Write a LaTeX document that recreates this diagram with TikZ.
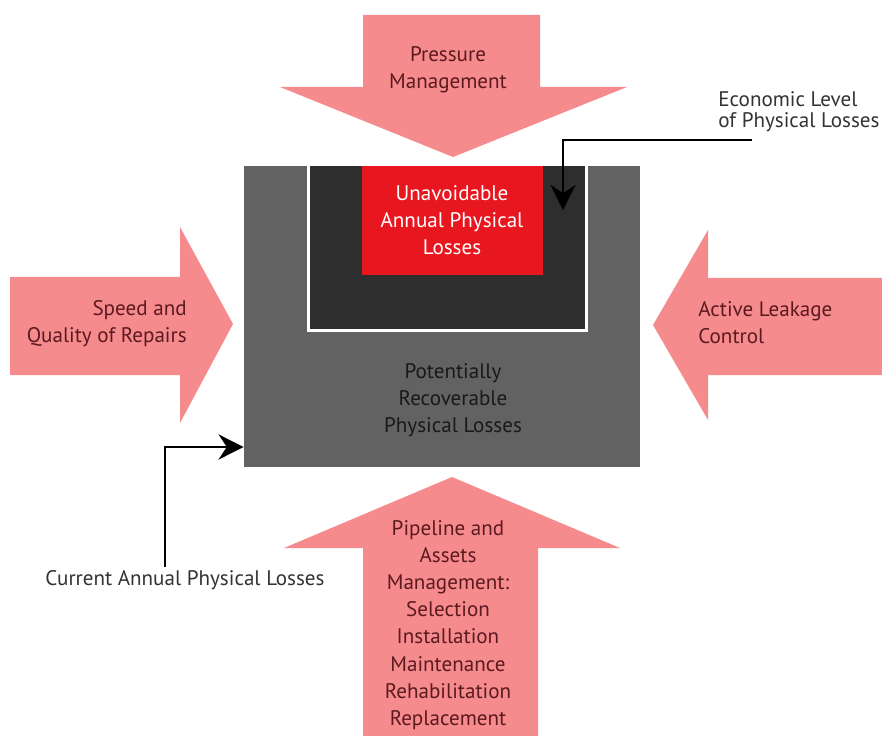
\documentclass[tikz,border=0pt]{standalone}
\usepackage{fontspec}
\setmainfont{PT Sans}
\usetikzlibrary{arrows.meta, positioning, fit, calc}

\definecolor{lossarrow}{RGB}{245,139,141}
\definecolor{losstext}{RGB}{92,26,32}
\definecolor{recovgrey}{RGB}{98,98,98}
\definecolor{econdark}{RGB}{46,46,46}
\definecolor{unavred}{RGB}{232,22,30}

\begin{document}
\begin{tikzpicture}[x=0.02cm, y=-0.02cm,
    bigarrow/.style={fill=lossarrow},
    arrowtext/.style={font=\fontsize{12}{15.5}\selectfont, text=losstext, inner sep=0pt},
    box/.style={rectangle, inner sep=0pt},
    boxtext/.style={font=\fontsize{12}{15.5}\selectfont, align=center, inner sep=0pt},
    note/.style={font=\fontsize{12}{12}\selectfont, text=black!80, inner sep=0pt},
    pointer/.style={-{Stealth[length=5mm, width=5mm]}, line width=1.6pt}
]
\useasboundingbox (0,0) rectangle (882,736);

% Loss boxes
\node[box, fill=recovgrey, fit={(244,166) (640,467)}] (recov) {};
\node[box, fill=econdark, fit={(309,166) (586,330)}] (econ) {};
\draw[white, line width=1.7pt] (econ.north west) -- (econ.south west) -- (econ.south east) -- (econ.north east);
\node[box, fill=unavred, fit={(362,166) (543,275)}] (unav) {};

\node[boxtext, text=white] (unavtext) at (452,220) {Unavoidable\\Annual Physical\\Losses};
\node[boxtext, text=black!90] (recovtext) at (453,400) {Potentially\\Recoverable\\Physical Losses};

% Big arrows
\fill[bigarrow] (363,15) -- (540,15) -- (540,87) -- (627,87) -- (453,157) -- (280,87) -- (363,87) -- cycle;
\fill[bigarrow] (10,277) -- (180,277) -- (180,227) -- (233,324) -- (180,423) -- (180,375) -- (10,375) -- cycle;
\fill[bigarrow] (882,278) -- (708,278) -- (708,230) -- (653,325) -- (708,420) -- (708,375) -- (882,375) -- cycle;
\fill[bigarrow] (363,736) -- (363,548) -- (284,548) -- (452,477) -- (620,548) -- (538,548) -- (538,736) -- cycle;

% Arrow labels
\node[arrowtext, align=center] (press) at (448,70) {Pressure\\Management};
\node[arrowtext, align=right, anchor=east] (repair) at (187,324) {Speed and\\Quality of Repairs};
\node[arrowtext, align=left, anchor=west] (leak) at (698,323) {Active Leakage\\Control};
\node[arrowtext, align=center] (assets) at (448,625) {Pipeline and\\Assets\\Management:\\Selection\\Installation\\Maintenance\\Rehabilitation\\Replacement};

% Pointers
\node[note, align=left, anchor=west] (econlbl) at (718,112) {Economic Level\\of Physical Losses};
\node[note] (curlbl) at (185,580) {Current Annual Physical Losses};
\coordinate (econtail) at (752,140);
\coordinate (econtip) at (563,210);
\coordinate (curtail) at (165,567);
\draw[pointer] (econtail) -| (econtip);
\draw[pointer] (curtail) |- (recov.west |- 0,447);

\end{tikzpicture}
\end{document}
